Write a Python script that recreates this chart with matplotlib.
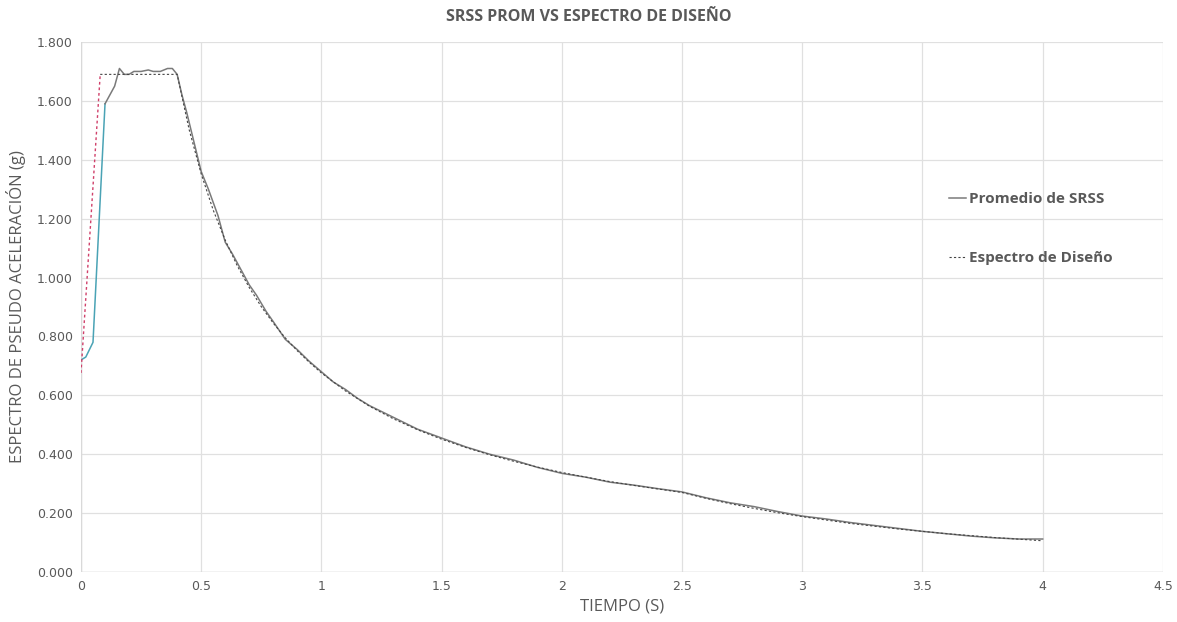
import numpy as np
import matplotlib.pyplot as plt

# periodos y valores
t_srss = [0, 0.02, 0.05, 0.1, 0.14, 0.16, 0.18, 0.2, 0.22, 0.25, 0.28, 0.3, 0.33,
          0.36, 0.38, 0.4, 0.42, 0.44, 0.47, 0.5, 0.53, 0.57, 0.6, 0.63, 0.67, 0.7,
          0.73, 0.77, 0.8, 0.85, 0.9, 0.95, 1.0, 1.05, 1.1, 1.15, 1.2, 1.25, 1.3,
          1.4, 1.5, 1.6, 1.7, 1.8, 1.9, 2.0, 2.1, 2.2, 2.3, 2.4, 2.5, 2.6, 2.7,
          2.8, 2.9, 3.0, 3.1, 3.2, 3.3, 3.4, 3.5, 3.6, 3.7, 3.8, 3.9, 4.0]
sa_srss = [0.72, 0.73, 0.78, 1.59, 1.65, 1.71, 1.69, 1.69, 1.70, 1.70, 1.705, 1.70,
           1.70, 1.71, 1.71, 1.69, 1.62, 1.56, 1.46, 1.36, 1.30, 1.21, 1.12, 1.08,
           1.02, 0.975, 0.94, 0.885, 0.85, 0.79, 0.755, 0.715, 0.68, 0.645, 0.62,
           0.59, 0.565, 0.545, 0.525, 0.485, 0.455, 0.425, 0.40, 0.38, 0.355, 0.335,
           0.322, 0.305, 0.295, 0.283, 0.272, 0.252, 0.235, 0.222, 0.205, 0.190,
           0.180, 0.168, 0.158, 0.148, 0.138, 0.130, 0.122, 0.116, 0.112, 0.112]

t_esp = [0, 0.08, 0.4, 0.45, 0.5, 0.55, 0.6, 0.65, 0.7, 0.75, 0.8, 0.85, 0.9, 0.95,
         1.0, 1.1, 1.2, 1.3, 1.4, 1.5, 1.6, 1.7, 1.8, 1.9, 2.0, 2.1, 2.2, 2.3,
         2.4, 2.5, 2.6, 2.7, 2.8, 2.9, 3.0, 3.2, 3.4, 3.6, 3.8, 4.0]
sa_esp = [0.676, 1.69, 1.69, 1.502, 1.352, 1.229, 1.127, 1.040, 0.966, 0.901, 0.845,
          0.795, 0.751, 0.712, 0.676, 0.615, 0.563, 0.520, 0.483, 0.451, 0.423,
          0.398, 0.376, 0.356, 0.338, 0.322, 0.307, 0.294, 0.282, 0.270, 0.250,
          0.232, 0.216, 0.201, 0.188, 0.165, 0.146, 0.130, 0.117, 0.106]

yticks = np.arange(0, 1.81, 0.2)
xticks = np.arange(0, 4.51, 0.5)
txt = '#595959'

fig = plt.figure(figsize=(11.77, 6.22), dpi=100)
ax = fig.add_axes([0.0688, 0.0804, 0.9192, 0.8521])

# tramos de color del inicio
ax.plot(t_srss[:4], sa_srss[:4], color='#4aa3b5', lw=1.1, zorder=3)
ax.plot(t_esp[:2], sa_esp[:2], color='#d0406a', lw=1.0, ls=(0, (2, 2)), zorder=3)

ax.plot(t_srss[3:], sa_srss[3:], color='#7a7a7a', lw=1.1, zorder=4)
ax.plot(t_esp[1:], sa_esp[1:], color='#444444', lw=0.8, ls=(0, (2, 2)), zorder=5)

ax.plot([], [], color='#7a7a7a', lw=1.1, label='Promedio de SRSS')
ax.plot([], [], color='#444444', lw=0.8, ls=(0, (2, 2)), label='Espectro de Diseño')

ax.set_xlim(0, 4.5)
ax.set_ylim(0, 1.8)
ax.set_xticks(xticks)
ax.set_xticklabels(['0', '0.5', '1', '1.5', '2', '2.5', '3', '3.5', '4', '4.5'])
ax.set_yticks(yticks)
ax.set_yticklabels(['%.3f' % v for v in yticks])
ax.tick_params(length=0, labelsize=9, colors=txt, pad=6)
ax.grid(True, color='#e0e0e0', lw=0.9)
ax.set_axisbelow(True)
for s in ax.spines.values():
    s.set_visible(False)
ax.axhline(0, color='#d0d0d0', lw=1, zorder=1)
ax.axvline(0, color='#d9d9d9', lw=1, zorder=1)

ax.set_xlabel('TIEMPO (S)', fontsize=12, color=txt, family='Open Sans', labelpad=4)
ax.set_ylabel('ESPECTRO DE PSEUDO ACELERACIÓN (g)', fontsize=12, color=txt,
              family='Open Sans', labelpad=8)
fig.suptitle('SRSS PROM VS ESPECTRO DE DISEÑO', fontsize=11.5, fontweight='bold',
             color=txt, family='Open Sans', y=0.985)

leg = ax.legend(loc='upper left', bbox_to_anchor=(0.79, 0.743), frameon=False,
                handlelength=1.1, handletextpad=0.2, labelspacing=2.95,
                prop={'family': 'Open Sans', 'weight': 'bold', 'size': 11})
for t in leg.get_texts():
    t.set_color(txt)

fig.savefig('out.png', dpi=100)
